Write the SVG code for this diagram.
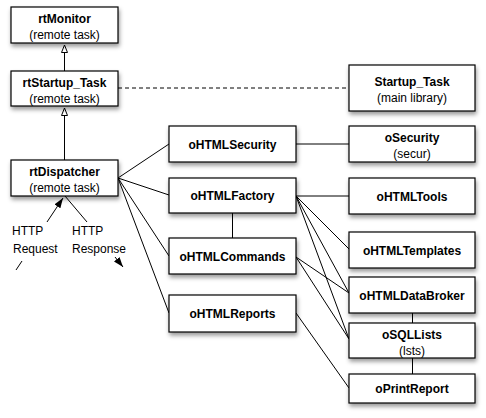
<svg xmlns="http://www.w3.org/2000/svg" width="486" height="418" viewBox="0 0 486 418">
<style>
.box{fill:#fff;stroke:#000;stroke-width:1.2;filter:url(#sh)}
.t{font-family:"Liberation Sans",Arial,Helvetica,sans-serif;font-size:12px;fill:#000;text-anchor:middle}
.b{font-weight:bold}
.l{font-family:"Liberation Sans",Arial,Helvetica,sans-serif;font-size:12px;fill:#000}
.c{stroke:#000;stroke-width:1;fill:none}
</style>
<defs>
<filter id="sh" x="-10%" y="-20%" width="130%" height="160%">
<feDropShadow dx="1" dy="3" stdDeviation="2" flood-color="#000" flood-opacity="0.4"/>
</filter>
<marker id="hollow" markerUnits="userSpaceOnUse" viewBox="0 0 9 8" refX="8" refY="3.5" markerWidth="9" markerHeight="8" orient="auto">
<path d="M0.5,0.5 L8,3.5 L0.5,6.5 z" fill="#fff" stroke="#000" stroke-width="1"/>
</marker>
<marker id="filled" markerUnits="userSpaceOnUse" viewBox="0 0 10 8" refX="10" refY="3.5" markerWidth="10" markerHeight="8" orient="auto">
<path d="M0,0 L10,3.5 L0,7 z" fill="#000"/>
</marker>
</defs>
<rect width="486" height="418" fill="#fff"/>
<g id="connectors">
<line class="c" x1="64.5" y1="71" x2="64.5" y2="45" marker-end="url(#hollow)"/>
<line class="c" x1="64.5" y1="160" x2="64.5" y2="108" marker-end="url(#hollow)"/>
<line class="c" x1="118" y1="88" x2="349" y2="88" stroke-dasharray="4,3"/>
<line class="c" x1="118" y1="178" x2="169" y2="144"/>
<line class="c" x1="118" y1="178" x2="169" y2="195"/>
<line class="c" x1="118" y1="178" x2="169" y2="256"/>
<line class="c" x1="118" y1="178" x2="169" y2="313"/>
<line class="c" x1="296" y1="144" x2="349" y2="144"/>
<line class="c" x1="232.5" y1="213" x2="232.5" y2="238"/>
<line class="c" x1="296" y1="196" x2="349" y2="196"/>
<line class="c" x1="296" y1="196" x2="349" y2="249"/>
<line class="c" x1="296" y1="196" x2="349" y2="293"/>
<line class="c" x1="296" y1="196" x2="349" y2="339"/>
<line class="c" x1="296" y1="257" x2="349" y2="293"/>
<line class="c" x1="296" y1="257" x2="349" y2="339"/>
<line class="c" x1="296" y1="313" x2="349" y2="388"/>
<line class="c" x1="412.5" y1="313" x2="412.5" y2="323"/>
<line class="c" x1="412.5" y1="358" x2="412.5" y2="374"/>
<line class="c" x1="47" y1="222" x2="63" y2="198" marker-end="url(#filled)"/>
<line class="c" x1="16" y1="270" x2="22" y2="261"/>
<line class="c" x1="65" y1="196" x2="87" y2="222"/>
<line class="c" x1="115" y1="257" x2="123" y2="267" marker-end="url(#filled)"/>
</g>
<g id="rtMonitor"><rect class="box" x="11" y="7" width="107" height="36"/><text class="t b" x="64.5" y="23">rtMonitor</text><text class="t" x="64.5" y="39">(remote task)</text></g>
<g id="rtStartup_Task"><rect class="box" x="11" y="71" width="107" height="35"/><text class="t b" x="64.5" y="86.5">rtStartup_Task</text><text class="t" x="64.5" y="102.5">(remote task)</text></g>
<g id="rtDispatcher"><rect class="box" x="11" y="160" width="107" height="36"/><text class="t b" x="64.5" y="176">rtDispatcher</text><text class="t" x="64.5" y="192">(remote task)</text></g>
<g id="oHTMLSecurity"><rect class="box" x="169" y="126" width="127" height="36"/><text class="t b" x="232.5" y="148.5">oHTMLSecurity</text></g>
<g id="oHTMLFactory"><rect class="box" x="169" y="178" width="127" height="35"/><text class="t b" x="232.5" y="200">oHTMLFactory</text></g>
<g id="oHTMLCommands"><rect class="box" x="169" y="238" width="127" height="36"/><text class="t b" x="232.5" y="260.5">oHTMLCommands</text></g>
<g id="oHTMLReports"><rect class="box" x="169" y="295" width="127" height="37"/><text class="t b" x="232.5" y="318">oHTMLReports</text></g>
<g id="Startup_Task"><rect class="box" x="349" y="65" width="126" height="46"/><text class="t b" x="412" y="86">Startup_Task</text><text class="t" x="412" y="102">(main library)</text></g>
<g id="oSecurity"><rect class="box" x="349" y="126" width="126" height="36"/><text class="t b" x="412" y="142">oSecurity</text><text class="t" x="412" y="158">(secur)</text></g>
<g id="oHTMLTools"><rect class="box" x="349" y="178" width="126" height="36"/><text class="t b" x="412" y="200.5">oHTMLTools</text></g>
<g id="oHTMLTemplates"><rect class="box" x="349" y="232" width="126" height="36"/><text class="t b" x="412" y="254.5">oHTMLTemplates</text></g>
<g id="oHTMLDataBroker"><rect class="box" x="349" y="277" width="126" height="36"/><text class="t b" x="412" y="299.5">oHTMLDataBroker</text></g>
<g id="oSQLLists"><rect class="box" x="349" y="323" width="126" height="35"/><text class="t b" x="412" y="338.5">oSQLLists</text><text class="t" x="412" y="354.5">(lsts)</text></g>
<g id="oPrintReport"><rect class="box" x="349" y="374" width="126" height="29"/><text class="t b" x="412" y="393">oPrintReport</text></g>
<g id="labels">
<text class="l" x="12" y="235">HTTP</text><text class="l" x="13" y="253">Request</text>
<text class="l" x="72" y="235">HTTP</text><text class="l" x="72" y="253">Response</text>
</g>
</svg>
